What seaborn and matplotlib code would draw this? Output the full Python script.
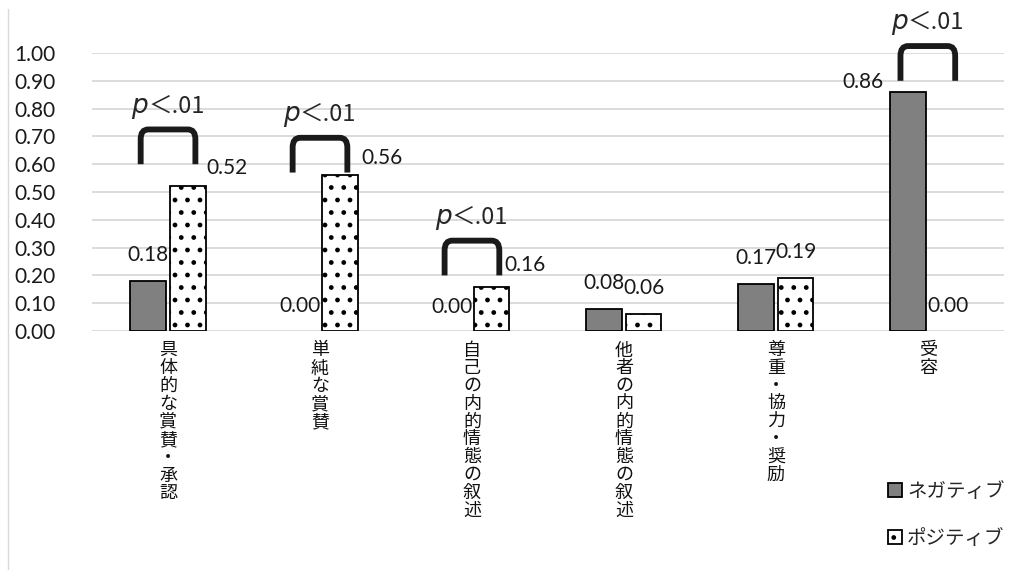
import pandas as pd
import numpy as np
import matplotlib
matplotlib.use('Agg')
import matplotlib.pyplot as plt
from matplotlib.patches import Patch, PathPatch
from matplotlib.path import Path
from matplotlib.lines import Line2D
from matplotlib import backend_bases, hatch as mhatch
import seaborn as sns

# data
categories = ['具体的な賞賛・承認', '単純な賞賛', '自己の内的情態の叙述',
              '他者の内的情態の叙述', '尊重・協力・奨励', '受容']
negative = [0.18, 0.00, 0.00, 0.08, 0.17, 0.86]
positive = [0.52, 0.56, 0.16, 0.06, 0.19, 0.00]
series = ['ネガティブ', 'ポジティブ']
sig_groups = [0, 1, 2, 5]
sig_text = 'p'
sig_rest = '＜.01'

df = pd.DataFrame({
    'cat': categories * 2,
    'kind': [series[0]] * len(categories) + [series[1]] * len(categories),
    'val': negative + positive,
})


# the dot pattern in the reference sits between '.' and '..', so loosen the density a bit
def _hatch_path(self, density=4.0):
    h = self.get_hatch()
    if h is None:
        return None
    return mhatch.get_path(h, density)


backend_bases.GraphicsContextBase.get_hatch_path = _hatch_path

sns.set_style('white')
plt.rcParams['font.family'] = ['Lato', 'Noto Sans CJK JP', 'DejaVu Sans']
plt.rcParams['hatch.linewidth'] = 1.6

fig = plt.figure(figsize=(10.16, 5.70), dpi=100)
ax = fig.add_axes([0.0906, 0.4193, 0.8974, 0.4877])

sns.barplot(data=df, x='cat', y='val', hue='kind', order=categories,
            hue_order=series, palette={series[0]: '#808080', series[1]: 'white'},
            width=0.52, gap=0.1, edgecolor='black', linewidth=1.3,
            legend=False, ax=ax)

# dotted fill for the positive bars; hide the outline of empty bars
for bar in ax.containers[1]:
    bar.set_hatch('..')
for cont in ax.containers:
    for bar in cont:
        if bar.get_height() == 0:
            bar.set_linewidth(0)
            bar.set_hatch(None)

ax.set_ylim(0, 1.0)
ax.set_xlim(-0.5, 5.5)
ax.set_yticks(np.arange(0, 1.01, 0.1))
ax.set_yticklabels([f'{v:.2f}' for v in np.arange(0, 1.01, 0.1)], fontsize=15, color='#1a1a1a')
ax.yaxis.grid(True, color='#d9d9d9', linewidth=1.3)
ax.set_axisbelow(True)
for s in ax.spines.values():
    s.set_visible(False)
ax.tick_params(axis='y', length=0, pad=26)
ax.tick_params(axis='x', length=0, pad=8)
ax.set_xticks(range(len(categories)))
ax.set_xticklabels(['\n'.join(c) for c in categories], fontsize=13,
                   linespacing=1.13, va='top', color='#111111')
ax.set_xlabel('')
ax.set_ylabel('')

# value labels (offsets in pixels, matching the hand-moved labels)
neg_off = [(0, 26), (0, 25), (0, 24), (0, 26), (0, 26), (-45, 10)]
pos_off = [(39, 18), (42, 17), (33, 22), (0, 26), (0, 26), (0, 25)]
for cont, vals, offs in [(ax.containers[0], negative, neg_off),
                         (ax.containers[1], positive, pos_off)]:
    for bar, v, (dx, dy) in zip(cont, vals, offs):
        x = bar.get_x() + bar.get_width() / 2
        ax.annotate(f'{v:.2f}', (x, v), xytext=(dx, dy), textcoords='offset pixels',
                    ha='center', va='center', fontsize=15, color='#1a1a1a',
                    annotation_clip=False)

# significance brackets
br_bottom = [0.60, 0.57, 0.20, 0.90]
br_h = 0.125
br_w = 0.18
rx, ry = 0.05, 0.035
for g, yb in zip(sig_groups, br_bottom):
    x0, x1 = g - br_w, g + br_w
    yt = yb + br_h
    verts = [(x0, yb), (x0, yt - ry), (x0, yt), (x0 + rx, yt),
             (x1 - rx, yt), (x1, yt), (x1, yt - ry), (x1, yb)]
    codes = [Path.MOVETO, Path.LINETO, Path.CURVE3, Path.CURVE3,
             Path.LINETO, Path.CURVE3, Path.CURVE3, Path.LINETO]
    ax.add_patch(PathPatch(Path(verts, codes), fill=False, lw=4.2,
                           edgecolor='#1a1a1a', capstyle='butt', clip_on=False))
    ax.annotate(sig_text, (g, yt + 0.085), xytext=(-20, 0), textcoords='offset pixels',
                ha='right', va='center', fontsize=19, style='italic',
                family=['DejaVu Sans'], annotation_clip=False)
    ax.annotate(sig_rest, (g, yt + 0.085), xytext=(-20, 0), textcoords='offset pixels',
                ha='left', va='center', fontsize=17, family=['Noto Sans CJK JP'],
                annotation_clip=False)

handles = [Patch(facecolor='#808080', edgecolor='black', linewidth=1.3),
           Patch(facecolor='white', edgecolor='black', linewidth=1.3, hatch='..')]
fig.legend(handles, series, loc='upper left', bbox_to_anchor=(0.866, 0.17),
           frameon=False, fontsize=14, handlelength=0.75, handleheight=0.75,
           handletextpad=0.25, labelspacing=1.45, borderaxespad=0)

# faint chart-area border on the left
fig.add_artist(Line2D([0.008, 0.008], [0.0, 0.985], color='#d9d9d9', lw=1))

fig.savefig('out.png', dpi=100)
